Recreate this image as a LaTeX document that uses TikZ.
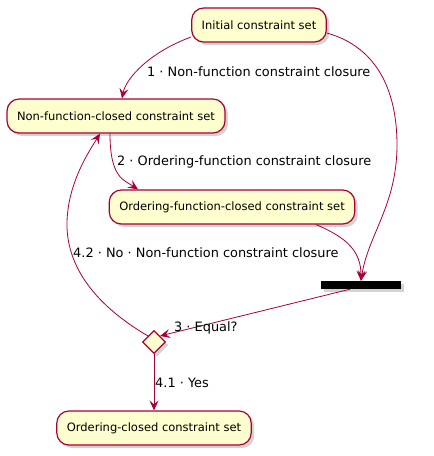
\documentclass[tikz,border=0pt]{standalone}
\usepackage{fontspec}
\setmainfont{DejaVu Sans}
\usetikzlibrary{shapes.geometric,arrows.meta,shadows,calc}

\definecolor{umlfill}{HTML}{FEFECE}
\definecolor{umlred}{HTML}{A80036}

\begin{document}
\begin{tikzpicture}[x=1pt, y=-1pt,
		state/.style={draw=umlred, line width=1.2pt, fill=umlfill, rounded corners=12pt,
			minimum height=34pt, inner xsep=10pt, font=\fontsize{11.5}{13}\selectfont,
			drop shadow={shadow xshift=3pt, shadow yshift=-3pt, opacity=0.35}},
		choice/.style={draw=umlred, line width=1.2pt, fill=umlfill, diamond, inner sep=0pt,
			minimum width=23pt, minimum height=23pt,
			drop shadow={shadow xshift=3pt, shadow yshift=-3pt, opacity=0.35}},
		bar/.style={fill=black, minimum width=80pt, minimum height=8pt, inner sep=0pt,
			drop shadow={shadow xshift=3pt, shadow yshift=-3pt, opacity=0.35}},
		flow/.style={draw=umlred, line width=0.8pt, -{Stealth[length=10pt, width=9pt, inset=4pt]}},
		lbl/.style={anchor=west, inner sep=0pt, font=\fontsize{12.9}{14}\selectfont}]
			% Frame
			\useasboundingbox (0,0) rectangle (434,456);

			% States
			\node[state] (init) at (259,25) {Initial constraint set};
			\node[state] (nfc) at (116,116) {Non-function-closed constraint set};
			\node[state] (ofc) at (232,207) {Ordering-function-closed constraint set};
			\node[state] (oc) at (154,428) {Ordering-closed constraint set};

			% Join bar and decision
			\node[bar] (join) at (361,285) {};
			\node[choice] (equal) at (154,342) {};

			% Closure steps
			\draw[flow] ($(init.west)+(0,12)$) .. controls (150,52) and (126,78) .. ($(nfc.north)+(6,0)$);
			\draw[flow] ($(init.east)+(0,8)$) .. controls (380,48) and (397,95) .. (397,145)
				.. controls (397,205) and (368,235) .. (join.north);
			\draw[flow] ($(nfc.south)+(-6,0)$) .. controls (110,178) and (124,180) .. ($(ofc.north)+(-94,0)$);
			\draw[flow] ($(ofc.south)+(84,0)$) .. controls (348,238) and (361,252) .. (join.north);

			% Decision
			\draw[flow] ($(join.south)+(-11,0)$) -- (equal.north east);
			\draw[flow] (equal.north west) .. controls (90,302) and (66,262) .. (67,222)
				.. controls (68,182) and (90,150) .. ($(nfc.south)+(-16,0)$);
			\draw[flow] (equal.south) -- (oc.north);

			% Edge labels
			\node[lbl] at (147,72) {1 · Non-function constraint closure};
			\node[lbl] at (117,162) {2 · Ordering-function constraint closure};
			\node[lbl] at (174,328) {3 · Equal?};
			\node[lbl] at (73,253) {4.2 · No · Non-function constraint closure};
			\node[lbl] at (155,383) {4.1 · Yes};

		\end{tikzpicture}
\end{document}
